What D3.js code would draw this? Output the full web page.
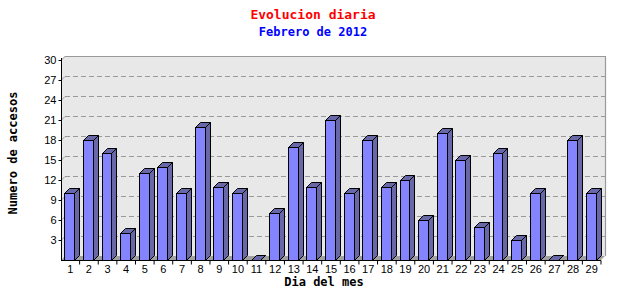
<!DOCTYPE html>
<html><head><meta charset="utf-8">
<script src="https://cdn.jsdelivr.net/npm/d3@7"></script>
<style>body{margin:0;background:#fff}svg{display:block}</style>
</head><body>
<script>
const days = d3.range(1, 30).map(String);
const visits = [10,18,16,4,13,14,10,20,11,10,0,7,17,11,21,10,18,11,12,6,19,15,5,16,3,10,0,18,10];
const yTicks = [3,6,9,12,15,18,21,24,27,30];
const title = "Evolucion diaria";
const subtitle = "Febrero de 2012";
const xTitle = "Dia del mes";
const yTitle = "Numero de accesos";

const W = 640, H = 300;
const pL = 61, pR = 601, pT = 60, pB = 260, dx = 4, dy = 4, bd = 5;
const svg = d3.select("body").append("svg").attr("width", W).attr("height", H);

const x = d3.scaleBand().domain(days).range([pL, pR]);
const y = d3.scaleLinear().domain([0, 30]).range([pB, pT]);

// back wall
svg.append("rect").attr("x", pL + dx).attr("y", pT - dy)
  .attr("width", pR - pL).attr("height", pB - pT)
  .attr("fill", "#e8e8e8");
svg.append("path")
  .attr("d", `M${pL+dx},${pT-dy+0.5}H${pR+dx+0.5}V${pB-dy}`)
  .attr("fill", "none").attr("stroke", "#999").attr("stroke-width", 1.2);
// left wall side strip
svg.append("path")
  .attr("d", `M${pL},${pT}L${pL+dx},${pT-dy}V${pB-dy}L${pL},${pB}Z`)
  .attr("fill", "#e8e8e8");
svg.append("path")
  .attr("d", `M${pL+0.5},${pT}L${pL+dx+0.5},${pT-dy}`)
  .attr("stroke", "#999").attr("fill", "none");
// floor
svg.append("path")
  .attr("d", `M${pL},${pB}L${pL+dx},${pB-dy}H${pR+dx}L${pR},${pB}Z`)
  .attr("fill", "#a0a0a0");

// grid lines
const g = svg.append("g");
yTicks.filter(v => v < 30).forEach(v => {
  const yy = Math.round(y(v)) + 0.5;
  g.append("line").attr("x1", pL + dx).attr("x2", pR + dx)
    .attr("y1", yy - dy).attr("y2", yy - dy)
    .attr("stroke", "#999").attr("stroke-dasharray", "5,3");
  g.append("line").attr("x1", pL).attr("x2", pL + dx)
    .attr("y1", yy).attr("y2", yy - dy).attr("stroke", "#999");
});

// bars
const bw = x.bandwidth() * 0.53, off = x.bandwidth() * 0.18;
const bars = svg.append("g").selectAll("g").data(days.map((d, i) => ({d, v: visits[i]}))).join("g");
bars.each(function(p) {
  const s = d3.select(this);
  const x0 = Math.round(x(p.d) + off) + 0.5, x1 = Math.round(x(p.d) + off + bw) + 0.5;
  const y0 = Math.round(y(p.v)) + 0.5, yb = pB + 0.5;
  s.append("path").attr("d", `M${x1},${y0}L${x1+bd},${y0-bd}V${yb-bd}L${x1},${yb}Z`)
    .attr("fill", "#6868a8").attr("stroke", "#000").attr("stroke-linejoin", "round");
  s.append("path").attr("d", `M${x0},${y0}L${x0+bd},${y0-bd}H${x1+bd}L${x1},${y0}Z`)
    .attr("fill", "#6868a8").attr("stroke", "#000").attr("stroke-linejoin", "round");
  if (p.v > 0)
    s.append("rect").attr("x", x0).attr("y", y0).attr("width", x1 - x0).attr("height", yb - y0)
      .attr("fill", "#8484ff").attr("stroke", "#000");
});

// axes
const yAxis = d3.axisLeft(y).tickValues(yTicks).tickSize(3).tickPadding(2);
const ya = svg.append("g").attr("transform", `translate(${pL + 0.5},0)`).call(yAxis);
ya.select(".domain").attr("d", `M0,${pT - 2}V${pB}`);
ya.selectAll("text").attr("font-family", "Liberation Sans, Arial, sans-serif").attr("font-size", 11).attr("fill", "#000");

const xAxis = d3.axisBottom(x).tickSize(0).tickPadding(5);
const xa = svg.append("g").attr("transform", `translate(0,${pB + 0.5})`).call(xAxis);
xa.select(".domain").attr("d", `M${pL},0H${pR}`);
xa.selectAll("text").attr("font-family", "Liberation Sans, Arial, sans-serif").attr("font-size", 11).attr("fill", "#000");
xa.selectAll(".tick").append("line")
  .attr("x1", x.bandwidth() / 2).attr("x2", x.bandwidth() / 2)
  .attr("y1", 0).attr("y2", 4).attr("stroke", "#000");

// titles
const mono = "DejaVu Sans Mono, Liberation Mono, monospace";
svg.append("text").attr("x", 313).attr("y", 19).attr("text-anchor", "middle")
  .attr("font-family", mono).attr("font-weight", "bold").attr("font-size", 13)
  .attr("fill", "#ff0000").text(title);
svg.append("text").attr("x", 313).attr("y", 36).attr("text-anchor", "middle")
  .attr("font-family", mono).attr("font-weight", "bold").attr("font-size", 12)
  .attr("fill", "#0000ff").text(subtitle);
svg.append("text").attr("x", 324).attr("y", 286).attr("text-anchor", "middle")
  .attr("font-family", mono).attr("font-weight", "bold").attr("font-size", 12)
  .attr("fill", "#000").text(xTitle);
svg.append("text").attr("transform", "translate(17,153) rotate(-90)").attr("text-anchor", "middle")
  .attr("font-family", mono).attr("font-weight", "bold").attr("font-size", 12)
  .attr("fill", "#000").text(yTitle);
</script>
</body></html>
